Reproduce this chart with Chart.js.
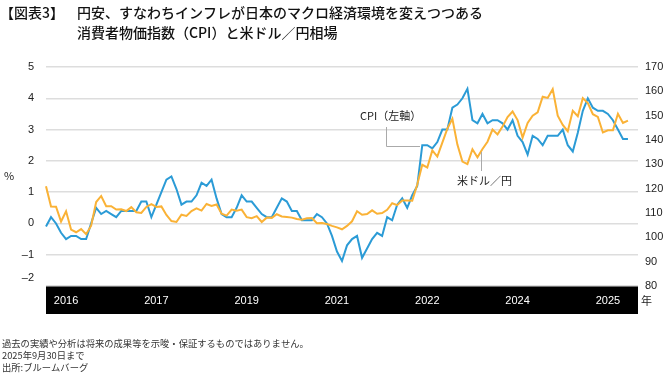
<!DOCTYPE html>
<html>
<head>
<meta charset="utf-8">
<script src="https://cdn.jsdelivr.net/npm/chart.js@4"></script>
<style>
  body { margin: 0; background: #fff; }
  #wrap { width: 667px; height: 373px; }
</style>
</head>
<body>
<div id="wrap"><canvas id="chart" width="667" height="373"></canvas></div>
<script>
// monthly, Jan 2016 .. Sep 2025 (axis runs on to Nov 2025)
const cpiYoY = [
  -0.1, 0.2, 0.0, -0.3, -0.5, -0.4, -0.4, -0.5, -0.5, 0.0, 0.5, 0.3,
  0.4, 0.3, 0.2, 0.4, 0.4, 0.4, 0.4, 0.7, 0.7, 0.2, 0.6, 1.0,
  1.4, 1.5, 1.1, 0.6, 0.7, 0.7, 0.9, 1.3, 1.2, 1.4, 0.8, 0.3,
  0.2, 0.2, 0.5, 0.9, 0.7, 0.7, 0.5, 0.3, 0.2, 0.2, 0.5, 0.8,
  0.7, 0.4, 0.4, 0.1, 0.1, 0.1, 0.3, 0.2, 0.0, -0.4, -0.9, -1.2,
  -0.7, -0.5, -0.4, -1.1, -0.8, -0.5, -0.3, -0.4, 0.2, 0.1, 0.6, 0.8,
  0.5, 0.9, 1.2, 2.5, 2.5, 2.4, 2.6, 3.0, 3.0, 3.7, 3.8, 4.0,
  4.3, 3.3, 3.2, 3.5, 3.2, 3.3, 3.3, 3.2, 3.0, 3.3, 2.8, 2.6,
  2.2, 2.8, 2.7, 2.5, 2.8, 2.8, 2.8, 3.0, 2.5, 2.3, 2.9, 3.6,
  4.0, 3.7, 3.6, 3.6, 3.5, 3.3, 3.0, 2.7, 2.7
];
const usdJpy = [
  121.0, 112.7, 112.6, 106.5, 110.7, 103.2, 102.1, 103.4, 101.3, 104.8, 114.5, 117.0,
  112.8, 112.8, 111.4, 111.5, 110.8, 112.4, 110.3, 110.0, 112.5, 113.6, 112.5, 112.7,
  109.2, 106.7, 106.3, 109.3, 108.8, 110.8, 111.9, 111.0, 113.7, 112.9, 113.5, 109.7,
  108.9, 111.4, 110.9, 111.4, 108.3, 107.9, 108.7, 106.3, 108.1, 108.0, 109.5, 108.6,
  108.4, 108.1, 107.5, 107.2, 107.8, 107.9, 105.8, 105.9, 105.5, 104.7, 104.1, 103.3,
  104.7, 106.6, 110.7, 109.3, 109.6, 111.1, 109.7, 110.0, 111.3, 114.0, 113.2, 115.1,
  115.1, 115.0, 121.7, 129.8, 128.7, 135.7, 133.2, 138.9, 144.7, 148.7, 138.1, 131.1,
  130.1, 136.2, 132.9, 136.3, 139.3, 144.3, 142.3, 145.5, 149.4, 151.7, 148.2, 141.0,
  147.0, 150.0, 151.4, 157.8, 157.3, 160.9, 150.0, 146.2, 143.6, 152.0, 149.8, 157.2,
  155.2, 150.6, 149.5, 143.1, 144.0, 144.0, 150.8, 147.0, 148.0
];
// band labels as printed in the source, one every 18 months
const yearTickIdx = [4, 22, 40, 58, 76, 94, 112];
const yearTickLabels = ['2016', '2017', '2019', '2021', '2022', '2024', '2025'];

const months = [];
for (let y = 2016; y <= 2025; y++) {
  for (let m = 1; m <= 12; m++) {
    if (y === 2025 && m > 11) break;
    months.push(y + '-' + String(m).padStart(2, '0'));
  }
}

const BLUE = '#2b9bd6';
const ORANGE = '#fab236';
const JP = '"Noto Sans CJK JP", "Noto Sans", sans-serif';
const NUM = '"Liberation Sans", Arial, sans-serif';

const decor = {
  id: 'decor',
  beforeDraw(chart) {
    const { ctx, chartArea } = chart;
    ctx.save();
    ctx.fillStyle = '#000';
    ctx.fillRect(chartArea.left, chartArea.bottom, chartArea.right - chartArea.left, 28);
    ctx.restore();
  },
  afterDraw(chart) {
    const { ctx, chartArea } = chart;
    ctx.save();
    ctx.fillStyle = '#111';
    ctx.textBaseline = 'middle';
    ctx.textAlign = 'left';

    ctx.font = '500 14px ' + JP;
    ctx.fillText('【図表3】', 0, 13);
    ctx.fillText('円安、すなわちインフレが日本のマクロ経済環境を変えつつある', 77, 13);
    ctx.fillText('消費者物価指数（CPI）と米ドル／円相場', 77, 33);

    ctx.fillStyle = '#222';
    ctx.font = '11px ' + JP;
    ctx.fillText('%', 4, 176);
    ctx.fillText('年', 641, 301);
    ctx.fillText('CPI（左軸）', 360, 116);
    ctx.fillText('米ドル／円', 457, 181);

    // bottom left tick sits above the black band
    ctx.textAlign = 'right';
    ctx.font = '11px ' + NUM;
    ctx.fillText('\u20132', chartArea.left - 12, chartArea.bottom - 8);
    ctx.textAlign = 'left';

    ctx.font = '9.3px ' + JP;
    ctx.fillStyle = '#333';
    ctx.fillText('過去の実績や分析は将来の成果等を示唆・保証するものではありません。', 2, 343);
    ctx.fillText('2025年9月30日まで', 2, 355);
    ctx.fillText('出所:ブルームバーグ', 2, 367);

    // leader lines
    ctx.strokeStyle = '#aaa';
    ctx.lineWidth = 1;
    ctx.beginPath();
    ctx.moveTo(386.5, 127);
    ctx.lineTo(386.5, 146.5);
    ctx.lineTo(420, 146.5);
    ctx.moveTo(481.5, 152);
    ctx.lineTo(481.5, 171);
    ctx.stroke();
    ctx.restore();
  }
};

new Chart(document.getElementById('chart'), {
  type: 'line',
  data: {
    labels: months,
    datasets: [
      {
        label: '米ドル／円',
        data: usdJpy,
        yAxisID: 'y2',
        borderColor: ORANGE,
        borderWidth: 2,
        pointRadius: 0,
        tension: 0
      },
      {
        label: 'CPI（左軸）',
        data: cpiYoY,
        yAxisID: 'y',
        borderColor: BLUE,
        borderWidth: 2,
        pointRadius: 0,
        tension: 0
      }
    ]
  },
  options: {
    responsive: false,
    animation: false,
    layout: { padding: { top: 67, left: 0, right: 0, bottom: 0 } },
    plugins: { legend: { display: false }, tooltip: { enabled: false } },
    scales: {
      x: {
        type: 'category',
        grid: { display: false, drawTicks: false },
        border: { display: false },
        afterFit: s => { s.height = 87; },
        ticks: {
          autoSkip: false,
          maxRotation: 0,
          padding: 8,
          color: '#fff',
          font: { family: NUM, size: 11 },
          callback: (v, i) => {
            const k = yearTickIdx.indexOf(i);
            return k >= 0 ? yearTickLabels[k] : '';
          }
        }
      },
      y: {
        position: 'left',
        min: -2,
        max: 5,
        afterFit: s => { s.width = 46; },
        grid: { color: '#dddddd', lineWidth: 1.5, drawTicks: false },
        border: { display: false },
        ticks: {
          stepSize: 1,
          padding: 12,
          color: '#222',
          font: { family: NUM, size: 11 },
          // -2 is drawn by the plugin, lifted off the band
          callback: v => (v === -2 ? '' : v < 0 ? '\u2013' + Math.abs(v) : String(v))
        }
      },
      y2: {
        position: 'right',
        min: 80,
        max: 170,
        afterFit: s => { s.width = 29; },
        grid: { display: false, drawTicks: false },
        border: { display: false },
        ticks: {
          stepSize: 10,
          padding: 7,
          color: '#222',
          font: { family: NUM, size: 11 }
        }
      }
    }
  },
  plugins: [decor]
});
</script>
</body>
</html>
